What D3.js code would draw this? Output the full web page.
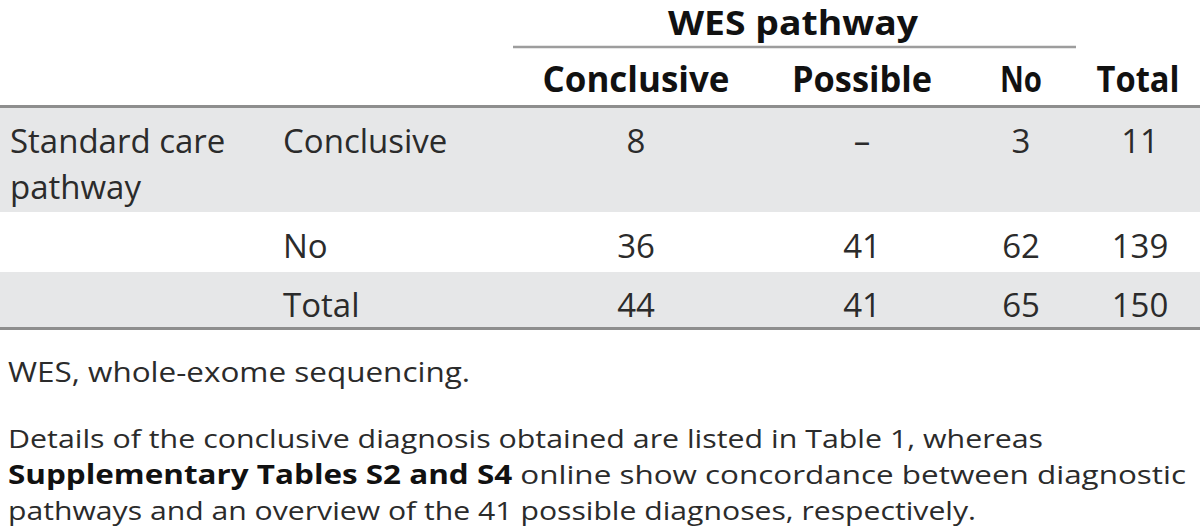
<!DOCTYPE html>
<html>
<head>
<meta charset="utf-8">
<script src="https://cdn.jsdelivr.net/npm/d3@7"></script>
<style>
  html, body { margin: 0; padding: 0; background: #fff; }
  svg { display: block; }
  text { font-family: "Open Sans", "Noto Sans", sans-serif; }
</style>
</head>
<body>
<svg id="chart" width="1200" height="527"></svg>
<script>
// ---- data ----
const spanHeader = "WES pathway";
const columns = ["Conclusive", "Possible", "No", "Total"];
const groupLabel = ["Standard care", "pathway"];
const rowLabels = ["Conclusive", "No", "Total"];
const rowConclusive = ["8", "–", "3", "11"];
const rowNo = ["36", "41", "62", "139"];
const rowTotal = ["44", "41", "65", "150"];
const footnote1 = "WES, whole-exome sequencing.";
const footnote2 = [
  [{t: "Details of the conclusive diagnosis obtained are listed in Table 1, whereas", b: false}],
  [{t: "Supplementary Tables S2 and S4", b: true}, {t: " online show concordance between diagnostic", b: false}],
  [{t: "pathways and an overview of the 41 possible diagnoses, respectively.", b: false}]
];

// ---- layout ----
const svg = d3.select("#chart");
const W = 1200;
const x = d3.scaleOrdinal().domain(columns).range([636, 862, 1021, 1138]);
const headerLen = d3.scaleOrdinal().domain(columns).range([187, 140, 42, 83]);
const rowY = d3.scaleOrdinal().domain(rowLabels).range([153, 258, 317]);
const bands = [
  {y0: 108, y1: 212, fill: "#e6e7e8"},
  {y0: 272, y1: 327, fill: "#e6e7e8"}
];
const textColor = "#2b2b2b";
const fs = 33;

svg.selectAll("rect.band").data(bands).join("rect")
  .attr("class", "band")
  .attr("x", 0).attr("width", W)
  .attr("y", d => d.y0).attr("height", d => d.y1 - d.y0)
  .attr("fill", d => d.fill);

// spanning header
svg.append("text")
  .attr("x", 793).attr("y", 35)
  .attr("text-anchor", "middle")
  .attr("font-size", 34).attr("font-weight", 700).attr("fill", "#111")
  .attr("textLength", 250).attr("lengthAdjust", "spacingAndGlyphs")
  .text(spanHeader);
svg.append("line")
  .attr("x1", 513).attr("x2", 1076).attr("y1", 47).attr("y2", 47)
  .attr("stroke", "#9d9d9d").attr("stroke-width", 2.5);

// column headers
svg.selectAll("text.colh").data(columns).join("text")
  .attr("class", "colh")
  .attr("x", d => x(d)).attr("y", 92)
  .attr("text-anchor", "middle")
  .attr("font-size", 35).attr("font-weight", 700).attr("fill", "#111")
  .attr("textLength", d => headerLen(d)).attr("lengthAdjust", "spacingAndGlyphs")
  .text(d => d);

// rules
svg.selectAll("line.rule").data([106.5, 328.5]).join("line")
  .attr("class", "rule")
  .attr("x1", 0).attr("x2", W).attr("y1", d => d).attr("y2", d => d)
  .attr("stroke", "#8e8e8e").attr("stroke-width", 3);

// group label
svg.selectAll("text.grp").data(groupLabel).join("text")
  .attr("class", "grp")
  .attr("x", 10).attr("y", (d, i) => 153 + i * 46)
  .attr("font-size", fs).attr("fill", textColor)
  .text(d => d);

// row labels
svg.selectAll("text.rowl").data(rowLabels).join("text")
  .attr("class", "rowl")
  .attr("x", 283).attr("y", d => rowY(d))
  .attr("font-size", fs).attr("fill", textColor)
  .text(d => d);

// cells
const rows = [rowConclusive, rowNo, rowTotal];
rows.forEach((vals, ri) => {
  svg.selectAll("text.cell" + ri).data(vals).join("text")
    .attr("class", "cell" + ri)
    .attr("x", (d, i) => x(columns[i]) + (i === 3 ? 2 : 0))
    .attr("y", rowY(rowLabels[ri]))
    .attr("text-anchor", "middle")
    .attr("font-size", fs).attr("fill", textColor)
    .text(d => d);
});

// footnotes
svg.append("text")
  .attr("x", 8).attr("y", 382)
  .attr("font-size", 28).attr("fill", textColor)
  .attr("textLength", 462).attr("lengthAdjust", "spacingAndGlyphs")
  .text(footnote1);

const fnY = [448, 484, 520];
const fnLen = [1035, 1178, 968];
footnote2.forEach((parts, li) => {
  const t = svg.append("text")
    .attr("x", 8).attr("y", fnY[li])
    .attr("font-size", 26).attr("fill", textColor)
    .attr("textLength", fnLen[li]).attr("lengthAdjust", "spacingAndGlyphs");
  parts.forEach(p => {
    t.append("tspan")
      .attr("font-weight", p.b ? 700 : 400)
      .attr("fill", p.b ? "#111" : textColor)
      .text(p.t);
  });
});
</script>
</body>
</html>
